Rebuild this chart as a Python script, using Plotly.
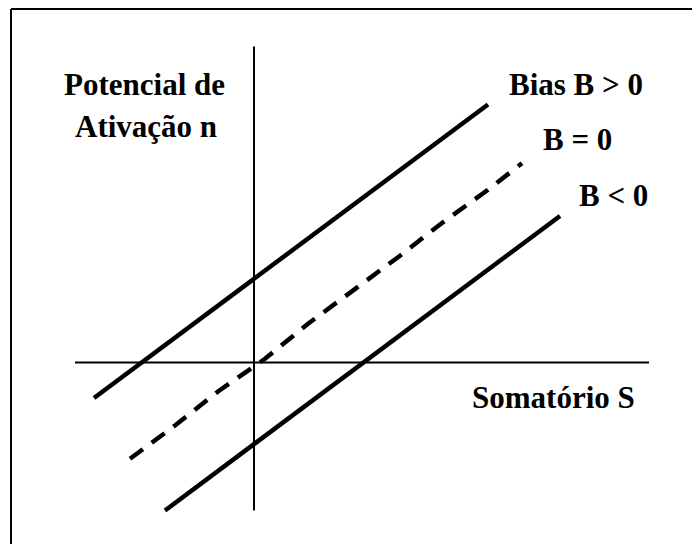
import plotly.graph_objects as go

W, H = 692, 544

# ---- data (units: S along horizontal axis, n along vertical axis) ----
s_pos = [-160, 234]
n_pos = [-35.5, 258]          # Bias B > 0

s_zero = [-124, -79, -36, 11, 54, 99, 144, 189, 234, 268]
n_zero = [-96.3, -63, -29, 3.7, 38.7, 72, 105.3, 140.3, 172.7, 199.3]   # B = 0 (dashed)

s_neg = [-89, 306]
n_neg = [-148, 146.5]         # B < 0

labels = ["Bias B > 0", "B = 0", "B < 0"]
y_title = ["Potencial de", "Ativação n"]
x_title = "Somatório S"

# axis extents (in data units)
s_axis = [-179, 395]
n_axis = [-148, 316]

# ---- figure ----
X0 = 254      # pixel position of origin
Y0 = 362.5

fig = go.Figure()
line_style = dict(color="black", width=4.5)
fig.add_trace(go.Scatter(x=s_pos, y=n_pos, mode="lines", line=line_style, hoverinfo="skip"))
fig.add_trace(go.Scatter(x=s_zero, y=n_zero, mode="lines",
                         line=dict(color="black", width=4.5, dash="16px,11px"), hoverinfo="skip"))
fig.add_trace(go.Scatter(x=s_neg, y=n_neg, mode="lines", line=line_style, hoverinfo="skip"))

# coordinate axes
fig.add_shape(type="line", x0=s_axis[0], x1=s_axis[1], y0=0, y1=0,
              line=dict(color="black", width=2), layer="below")
fig.add_shape(type="line", x0=0, x1=0, y0=n_axis[0], y1=n_axis[1],
              line=dict(color="black", width=2), layer="below")

# frame (left + top edges)
fig.add_shape(type="line", xref="paper", yref="paper", x0=11 / W, x1=11 / W, y0=0, y1=1 - 9 / H,
              line=dict(color="black", width=2))
fig.add_shape(type="line", xref="paper", yref="paper", x0=11 / W, x1=1, y0=1 - 9 / H, y1=1 - 9 / H,
              line=dict(color="black", width=2))

font = dict(family="'Liberation Serif', 'Times New Roman', serif", size=31, color="black", weight="bold")

def px_ann(text, x, y, xanchor):
    fig.add_annotation(text=text, xref="paper", yref="paper", x=x / W, y=1 - y / H,
                       xanchor=xanchor, yanchor="middle", showarrow=False, font=font,
                       borderpad=0)

px_ann(y_title[0], 144, 84.5, "center")
px_ann(y_title[1], 145.5, 126.5, "center")
px_ann(labels[0], 508, 84.5, "left")
px_ann(labels[1], 542, 139.5, "left")
px_ann(labels[2], 578, 195.5, "left")
px_ann(x_title, 470.5, 397, "left")

fig.update_layout(
    width=W, height=H,
    margin=dict(l=0, r=0, t=0, b=0, pad=0),
    paper_bgcolor="white", plot_bgcolor="white",
    showlegend=False,
    xaxis=dict(range=[-X0, W - X0], visible=False, fixedrange=True),
    yaxis=dict(range=[-(H - Y0), Y0], visible=False, fixedrange=True),
)

fig.write_html("out.html", config={"displayModeBar": False},
               post_script="document.body.style.margin='0';document.body.style.overflow='hidden';")
